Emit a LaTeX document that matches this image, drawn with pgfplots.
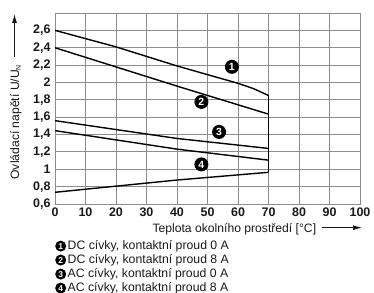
\documentclass[border=0pt]{standalone}
\usepackage{pgfplots}
\pgfplotsset{compat=1.18}
\usepackage{fontspec}
\setmainfont{Liberation Sans}
\usetikzlibrary{arrows.meta}
\newcommand{\cnum}[1]{\tikz[baseline=(c.base)]\node[circle,fill=black,inner sep=0pt,minimum size=11bp,text=white,font=\bfseries\fontsize{8.5}{8.5}\selectfont](c){#1};\hspace{1.5bp}}
\begin{document}
\begin{tikzpicture}[x=1bp,y=1bp]
\useasboundingbox (0,0) rectangle (374,293);
\begin{axis}[
  at={(55bp,89bp)}, anchor=south west,
  scale only axis, width=305bp, height=191bp,
  xmin=0, xmax=100, ymin=0.6, ymax=2.8,
  xtick={0,10,...,100},
  ytick={0.6,0.8,1,1.2,1.4,1.6,1.8,2,2.2,2.4,2.6},
  yticklabels={{0,6},{0,8},1,{1,2},{1,4},{1,6},{1,8},2,{2,2},{2,4},{2,6}},
  grid=major,
  major grid style={black!45, line width=0.9bp},
  axis line style={black!45, line width=0.9bp},
  major tick length=0pt,
  /pgf/number format/assume math mode=true,
  ticklabel style={font=\bfseries\fontsize{12.5}{13}\selectfont, text=black!90},
  yticklabel style={xshift=-1bp},
  clip=false,
]
\addplot[black, line width=1.4bp] coordinates {(0,2.6)(20,2.41)(40,2.19)(50,2.09)(60,1.99)(65,1.93)(70,1.85)};
\addplot[black, line width=1.4bp] coordinates {(0,2.4)(40,1.958)(70,1.635)};
\addplot[black, line width=1.4bp] coordinates {(0,1.56)(40,1.355)(70,1.24)};
\addplot[black, line width=1.4bp] coordinates {(0,1.445)(40,1.232)(70,1.105)};
\addplot[black, line width=1.4bp] coordinates {(0,0.735)(40,0.876)(70,0.965)};
\addplot[black, line width=1.4bp] coordinates {(70,0.965)(70,1.85)};
\tikzset{lab/.style={circle,fill=black,inner sep=0pt,minimum size=14bp,text=white,font=\bfseries\fontsize{10.5}{10.5}\selectfont}}
\node[lab] at (axis cs:58,2.18) {1};
\node[lab] at (axis cs:48,1.776) {2};
\node[lab] at (axis cs:53.8,1.43) {3};
\node[lab] at (axis cs:48,1.056) {4};
\end{axis}
\node[anchor=base west,font=\fontsize{12.2}{12}\selectfont,text=black!90] at (149,61) {Teplota okolního prostředí [°C]};
\draw[black!90,line width=0.9bp,-{Latex[length=9bp,width=5bp]}] (322,65.3) -- (362,65.3);
\node[rotate=90,anchor=base west,font=\fontsize{12.2}{12}\selectfont,text=black!90] at (19,110) {Ovládací napětí U/U\textsubscript{\fontsize{7}{7}\selectfont N}};
\draw[black!90,line width=0.9bp,-{Latex[length=9bp,width=5bp]}] (14.5,236) -- (14.5,279);
\node[anchor=base west,font=\fontsize{12.3}{12}\selectfont,text=black!90,inner sep=0pt] at (55,44) {\cnum{1}DC cívky, kontaktní proud 0 A};
\node[anchor=base west,font=\fontsize{12.3}{12}\selectfont,text=black!90,inner sep=0pt] at (55,30) {\cnum{2}DC cívky, kontaktní proud 8 A};
\node[anchor=base west,font=\fontsize{12.3}{12}\selectfont,text=black!90,inner sep=0pt] at (55,16) {\cnum{3}AC cívky, kontaktní proud 0 A};
\node[anchor=base west,font=\fontsize{12.3}{12}\selectfont,text=black!90,inner sep=0pt] at (55,2) {\cnum{4}AC cívky, kontaktní proud 8 A};
\end{tikzpicture}
\end{document}
